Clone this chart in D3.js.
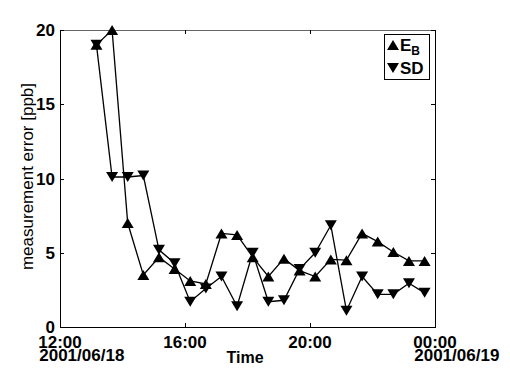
<!DOCTYPE html>
<html>
<head>
<meta charset="utf-8">
<script src="https://cdn.jsdelivr.net/npm/d3@7"></script>
<style>
  html, body { margin: 0; padding: 0; background: #fff; }
  svg { display: block; }
</style>
</head>
<body>
<svg id="chart" width="510" height="370"></svg>
<script>
// ---- data ----
const times = ["13:10","13:40","14:10","14:40","15:10","15:40","16:10","16:40","17:10","17:40","18:10",
               "18:40","19:10","19:40","20:10","20:40","21:10","21:40","22:10","22:40","23:10","23:40"];
const seriesEB = [19.0, 20.0, 7.0, 3.5, 4.7, 3.9, 3.1, 2.9, 6.3, 6.2, 4.7,
                  3.4, 4.6, 3.8, 3.4, 4.55, 4.5, 6.3, 5.75, 5.05, 4.45, 4.45];
const seriesSD = [19.0, 10.1, 10.1, 10.2, 5.2, 4.3, 1.7, 2.6, 3.4, 1.4, 5.0,
                  1.7, 1.8, 3.9, 5.0, 6.85, 1.1, 3.4, 2.2, 2.2, 2.95, 2.3];
const yTicks = [0, 5, 10, 15, 20];
const xTickTimes = ["2001-06-18 12:00", "2001-06-18 16:00", "2001-06-18 20:00", "2001-06-19 00:00"];
const xTickLine1 = ["12:00", "16:00", "20:00", "00:00"];
const xTickLine2 = ["2001/06/18", "", "", "2001/06/19"];
const legendLabels = ["E", "SD"];

// ---- layout ----
const svg = d3.select("#chart");
const L = 60, R = 435, T = 30, B = 327;
const parseFull = d3.timeParse("%Y-%m-%d %H:%M");
const parseT = s => parseFull("2001-06-18 " + s);

const x = d3.scaleTime()
  .domain([parseFull(xTickTimes[0]), parseFull(xTickTimes[3])])
  .range([L, R]);
const y = d3.scaleLinear().domain([0, 20]).range([B, T]);

const font = "'Liberation Sans', Arial, Helvetica, sans-serif";

// frame
svg.append("line").attr("x1", L).attr("x2", R).attr("y1", T + 0.5).attr("y2", T + 0.5)
  .attr("stroke", "#666").attr("stroke-width", 1);
svg.append("line").attr("x1", R + 0.5).attr("x2", R + 0.5).attr("y1", T).attr("y2", B)
  .attr("stroke", "#000").attr("stroke-width", 1);
svg.append("line").attr("x1", L + 0.5).attr("x2", L + 0.5).attr("y1", T).attr("y2", B + 1)
  .attr("stroke", "#000").attr("stroke-width", 1);
svg.append("line").attr("x1", L).attr("x2", R + 1).attr("y1", B + 0.5).attr("y2", B + 0.5)
  .attr("stroke", "#000").attr("stroke-width", 1);

// ticks (inward) on all sides
const tl = 4;
yTicks.forEach(v => {
  const yy = Math.round(y(v)) + 0.5;
  svg.append("line").attr("x1", L).attr("x2", L + tl).attr("y1", yy).attr("y2", yy).attr("stroke", "#000");
  svg.append("line").attr("x1", R - tl).attr("x2", R).attr("y1", yy).attr("y2", yy).attr("stroke", "#000");
});
xTickTimes.forEach(s => {
  const xx = Math.round(x(parseFull(s))) + 0.5;
  svg.append("line").attr("x1", xx).attr("x2", xx).attr("y1", B).attr("y2", B - tl).attr("stroke", "#000");
  svg.append("line").attr("x1", xx).attr("x2", xx).attr("y1", T).attr("y2", T + tl).attr("stroke", "#000");
});

// y tick labels
svg.append("g").selectAll("text").data(yTicks).join("text")
  .attr("x", L - 5).attr("y", d => y(d) + 6)
  .attr("text-anchor", "end")
  .attr("font-family", font).attr("font-size", 17).attr("font-weight", "bold")
  .text(d => d);

// x tick labels (two lines, left aligned to first line)
xTickTimes.forEach((s, i) => {
  const xx = x(parseFull(s));
  const t1 = svg.append("text")
    .attr("x", xx).attr("y", 348)
    .attr("text-anchor", "middle")
    .attr("font-family", font).attr("font-size", 17).attr("font-weight", "bold")
    .text(xTickLine1[i]);
  if (xTickLine2[i]) {
    const w = t1.node().getComputedTextLength();
    svg.append("text")
      .attr("x", xx - w / 2 + 1).attr("y", 361)
      .attr("text-anchor", "start")
      .attr("font-family", font).attr("font-size", 17).attr("font-weight", "bold")
      .text(xTickLine2[i]);
  }
});

// axis titles
svg.append("text")
  .attr("x", 245).attr("y", 363)
  .attr("text-anchor", "middle")
  .attr("font-family", font).attr("font-size", 16).attr("font-weight", "bold")
  .text("Time");
svg.append("text")
  .attr("transform", `translate(33,${(80 + 273) / 2}) rotate(-90)`)
  .attr("text-anchor", "middle")
  .attr("font-family", font).attr("font-size", 17)
  .text("measurement error [ppb]");

// series
const up = "M0,-5L6,5L-6,5Z";
const down = "M0,5L6,-5L-6,-5Z";
const line = d3.line().x(d => x(d[0])).y(d => y(d[1]));
const eb = times.map((t, i) => [parseT(t), seriesEB[i]]);
const sd = times.map((t, i) => [parseT(t), seriesSD[i]]);

[[eb, up], [sd, down]].forEach(([data, shape]) => {
  svg.append("path").datum(data).attr("d", line)
    .attr("fill", "none").attr("stroke", "#000").attr("stroke-width", 1.3);
});
[[eb, up], [sd, down]].forEach(([data, shape]) => {
  svg.append("g").selectAll("path").data(data).join("path")
    .attr("d", shape)
    .attr("transform", d => `translate(${x(d[0])},${y(d[1])})`)
    .attr("fill", "#000");
});

// legend
const lg = svg.append("g");
lg.append("rect").attr("x", 384.5).attr("y", 34.5).attr("width", 45).attr("height", 45)
  .attr("fill", "#fff").attr("stroke", "#000").attr("stroke-width", 1);
lg.append("path").attr("d", up).attr("transform", "translate(393,45)").attr("fill", "#000");
lg.append("path").attr("d", down).attr("transform", "translate(393,68)").attr("fill", "#000");
const t1 = lg.append("text").attr("x", 400).attr("y", 51)
  .attr("font-family", font).attr("font-size", 17).attr("font-weight", "bold");
t1.append("tspan").text(legendLabels[0]);
t1.append("tspan").attr("font-size", 12).attr("dy", 4).text("B");
lg.append("text").attr("x", 400).attr("y", 74)
  .attr("font-family", font).attr("font-size", 17).attr("font-weight", "bold")
  .text(legendLabels[1]);
</script>
</body>
</html>
